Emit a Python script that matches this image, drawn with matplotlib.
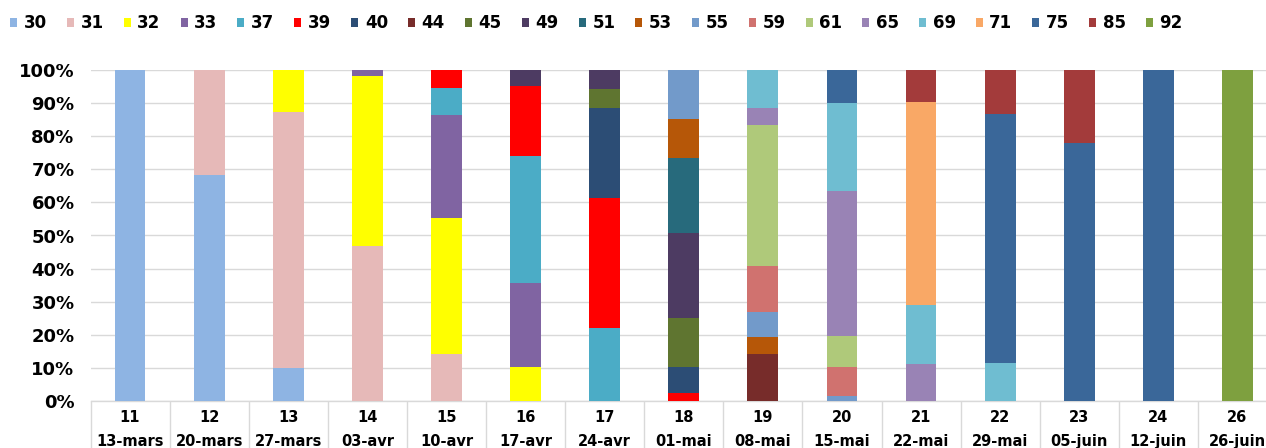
import matplotlib
matplotlib.use("Agg")
import matplotlib.pyplot as plt
import numpy as np

weeks = ["11", "12", "13", "14", "15", "16", "17", "18", "19", "20", "21", "22", "23", "24", "26"]
dates = ["13-mars", "20-mars", "27-mars", "03-avr", "10-avr", "17-avr", "24-avr", "01-mai",
         "08-mai", "15-mai", "22-mai", "29-mai", "05-juin", "12-juin", "26-juin"]

series_names = ["30", "31", "32", "33", "37", "39", "40", "44", "45", "49", "51",
                "53", "55", "59", "61", "65", "69", "71", "75", "85", "92"]

#                    11    12    13    14    15    16    17    18    19    20    21    22    23    24    26
s30 = [100.0, 68.3,  9.9,  0.0,  0.0,  0.0,  0.0,  0.0,  0.0,  0.0,  0.0,  0.0,  0.0,  0.0,  0.0]
s31 = [  0.0, 31.7, 77.5, 46.8, 14.1,  0.0,  0.0,  0.0,  0.0,  0.0,  0.0,  0.0,  0.0,  0.0,  0.0]
s32 = [  0.0,  0.0, 12.6, 51.5, 41.1, 10.4,  0.0,  0.0,  0.0,  0.0,  0.0,  0.0,  0.0,  0.0,  0.0]
s33 = [  0.0,  0.0,  0.0,  1.7, 31.2, 25.2,  0.0,  0.0,  0.0,  0.0,  0.0,  0.0,  0.0,  0.0,  0.0]
s37 = [  0.0,  0.0,  0.0,  0.0,  8.3, 38.5, 22.0,  0.0,  0.0,  0.0,  0.0,  0.0,  0.0,  0.0,  0.0]
s39 = [  0.0,  0.0,  0.0,  0.0,  5.3, 21.2, 39.2,  2.3,  0.0,  0.0,  0.0,  0.0,  0.0,  0.0,  0.0]
s40 = [  0.0,  0.0,  0.0,  0.0,  0.0,  0.0, 27.4,  8.1,  0.0,  0.0,  0.0,  0.0,  0.0,  0.0,  0.0]
s44 = [  0.0,  0.0,  0.0,  0.0,  0.0,  0.0,  0.0,  0.0, 14.1,  0.0,  0.0,  0.0,  0.0,  0.0,  0.0]
s45 = [  0.0,  0.0,  0.0,  0.0,  0.0,  0.0,  5.8, 14.8,  0.0,  0.0,  0.0,  0.0,  0.0,  0.0,  0.0]
s49 = [  0.0,  0.0,  0.0,  0.0,  0.0,  4.7,  5.6, 25.7,  0.0,  0.0,  0.0,  0.0,  0.0,  0.0,  0.0]
s51 = [  0.0,  0.0,  0.0,  0.0,  0.0,  0.0,  0.0, 22.4,  0.0,  0.0,  0.0,  0.0,  0.0,  0.0,  0.0]
s53 = [  0.0,  0.0,  0.0,  0.0,  0.0,  0.0,  0.0, 11.8,  5.1,  0.0,  0.0,  0.0,  0.0,  0.0,  0.0]
s55 = [  0.0,  0.0,  0.0,  0.0,  0.0,  0.0,  0.0, 14.9,  7.8,  1.5,  0.0,  0.0,  0.0,  0.0,  0.0]
s59 = [  0.0,  0.0,  0.0,  0.0,  0.0,  0.0,  0.0,  0.0, 13.9,  8.7,  0.0,  0.0,  0.0,  0.0,  0.0]
s61 = [  0.0,  0.0,  0.0,  0.0,  0.0,  0.0,  0.0,  0.0, 42.5,  9.4,  0.0,  0.0,  0.0,  0.0,  0.0]
s65 = [  0.0,  0.0,  0.0,  0.0,  0.0,  0.0,  0.0,  0.0,  5.0, 43.8, 11.2,  0.0,  0.0,  0.0,  0.0]
s69 = [  0.0,  0.0,  0.0,  0.0,  0.0,  0.0,  0.0,  0.0, 11.6, 26.5, 17.8, 11.6,  0.0,  0.0,  0.0]
s71 = [  0.0,  0.0,  0.0,  0.0,  0.0,  0.0,  0.0,  0.0,  0.0,  0.0, 61.2,  0.0,  0.0,  0.0,  0.0]
s75 = [  0.0,  0.0,  0.0,  0.0,  0.0,  0.0,  0.0,  0.0,  0.0, 10.1,  0.0, 75.1, 78.0, 100.0, 0.0]
s85 = [  0.0,  0.0,  0.0,  0.0,  0.0,  0.0,  0.0,  0.0,  0.0,  0.0,  9.8, 13.3, 22.0,  0.0,  0.0]
s92 = [  0.0,  0.0,  0.0,  0.0,  0.0,  0.0,  0.0,  0.0,  0.0,  0.0,  0.0,  0.0,  0.0,  0.0, 100.0]

series_values = [s30, s31, s32, s33, s37, s39, s40, s44, s45, s49, s51,
                 s53, s55, s59, s61, s65, s69, s71, s75, s85, s92]

colors = ["#8EB4E3", "#E6B9B8", "#FFFF00", "#8064A2", "#4BACC6", "#FF0000", "#2C4D75",
          "#772C2A", "#5F7530", "#4D3B62", "#276A7C", "#B65708", "#729ACA", "#D0726F",
          "#AFC97A", "#9983B5", "#6FBDD1", "#F9A866", "#3A6799", "#A33B3B", "#7EA03F"]

plt.rcParams["font.family"] = ["DejaVu Sans"]
plt.rcParams["font.weight"] = "bold"

W, H = 1266, 448
fig = plt.figure(figsize=(W / 100, H / 100), dpi=100)
fig.patch.set_facecolor("white")

ax_left, ax_right = 90.5, 1277.0
ax_top, ax_bottom = 70.0, 401.0
ax = fig.add_axes([ax_left / W, (H - ax_bottom) / H,
                   (ax_right - ax_left) / W, (ax_bottom - ax_top) / H])

x = np.arange(len(weeks))
bottom = np.zeros(len(weeks))
handles = []
for name, vals, col in zip(series_names, series_values, colors):
    vals = np.asarray(vals, dtype=float)
    b = ax.bar(x, vals, width=0.39, bottom=bottom, color=col, linewidth=0,
               label=name, zorder=3)
    handles.append(b)
    bottom += vals

ax.set_xlim(-0.5, len(weeks) - 0.5)
ax.set_ylim(0, 100)
ax.set_yticks(np.arange(0, 101, 10))
ax.set_yticklabels([f"{v}%" for v in range(0, 101, 10)], fontsize=13, fontweight="bold")
ax.yaxis.grid(True, color="#D9D9D9", linewidth=1.0, zorder=0)
ax.tick_params(axis="y", length=0, pad=11.5)

for side in ("left", "right", "top"):
    ax.spines[side].set_visible(False)
ax.spines["bottom"].set_color("#D9D9D9")
ax.spines["bottom"].set_linewidth(1.0)

# category cells: separator ticks between weeks, two rows of labels
ax.set_xticks(x)
ax.set_xticklabels(weeks, fontsize=10.5, fontweight="bold")
ax.tick_params(axis="x", which="major", length=0, pad=6.5)
ax.set_xticks(np.arange(-0.5, len(weeks), 1.0), minor=True)
ax.tick_params(axis="x", which="minor", length=40, color="#D9D9D9", width=1.0)

for xi, d in zip(x, dates):
    ax.annotate(d, xy=(xi, 0), xycoords=("data", "axes fraction"),
                xytext=(0, -29), textcoords="offset points",
                ha="center", va="center", fontsize=10.5, fontweight="bold",
                annotation_clip=False)

fig.legend(handles=handles, labels=series_names, loc="center left",
           bbox_to_anchor=(10 / W, 1 - 23.5 / H), ncol=len(series_names),
           frameon=False, handlelength=0.42, handleheight=0.42,
           handletextpad=0.4, columnspacing=1.2, borderpad=0, borderaxespad=0,
           prop={"weight": "bold", "size": 12})

fig.savefig("out.png", dpi=100, facecolor="white")
